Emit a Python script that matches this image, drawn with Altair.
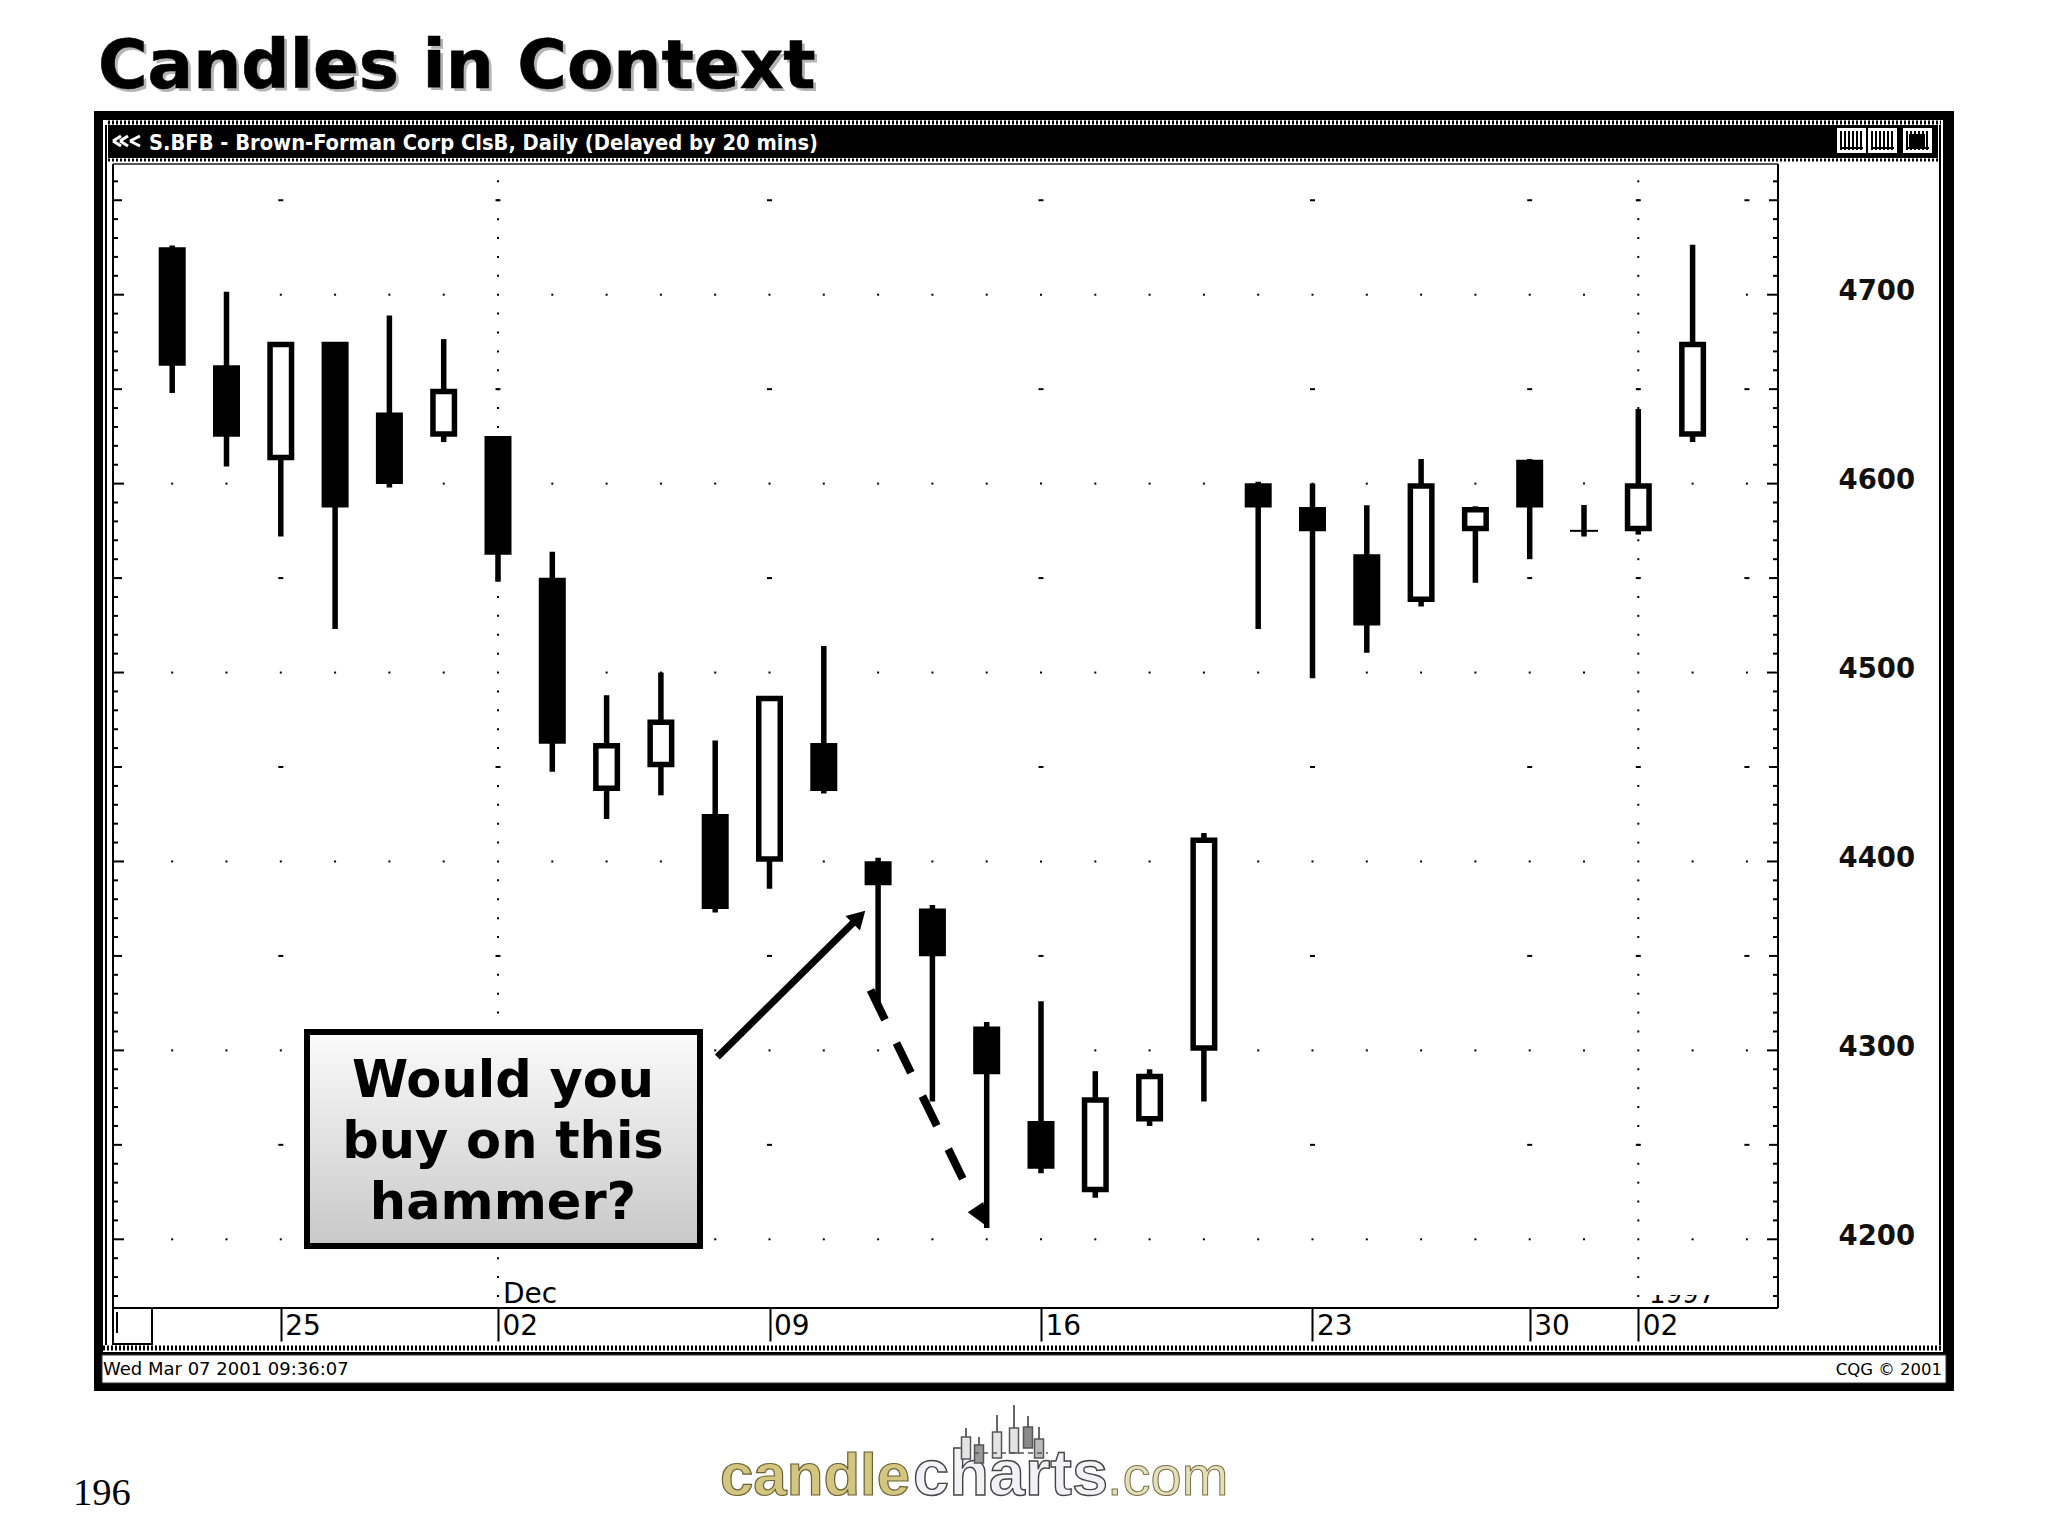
import altair as alt
import pandas as pd

# ---- chart values ----
idx    = list(range(29))
high   = [4726,4701.5,4675,4675,4689,4676.5,4625,4564,4488,4500,4464,4487.5,4514,4402,4377,4315,4326,4289,4290,4415,4601,4600,4588.5,4613,4588,4613,4588.7,4639.5,4726.5]
low    = [4648,4609,4572,4523,4598,4622,4548,4447.5,4422.5,4435,4373,4385.5,4436,4325,4273,4206,4235,4222,4260,4273,4523,4497,4510.5,4535,4547.5,4560,4572,4573,4622]
top    = [4723.7,4661.2,4673.7,4673.7,4636.2,4648.7,4623.7,4548.7,4461.2,4473.7,4423.7,4486.2,4461.2,4398.7,4373.7,4311.2,4261.2,4273.7,4286.2,4411.2,4598.7,4586.2,4561.2,4598.7,4586.2,4611.2,4575,4598.7,4673.7]
bottom = [4663.8,4626.3,4613.8,4588.8,4601.3,4626.3,4563.8,4463.8,4438.8,4451.3,4376.3,4401.3,4438.8,4388.8,4351.3,4288.8,4238.8,4226.3,4263.8,4301.3,4588.8,4576.3,4526.3,4538.8,4576.3,4588.8,4575,4576.3,4626.3]
up     = [0,0,1,0,0,1,0,0,1,1,0,1,0,0,0,0,0,1,1,1,0,0,0,1,1,0,1,1,1]
doji_i = [26]

x_tick_idx    = [2,6,11,16,21,25,27]
x_tick_labels = ['25','02','09','16','23','30','02']
y_labels      = [4200,4300,4400,4500,4600,4700]
week_idx      = [2,6,11,16,21,25,27,29]
half_levels   = [4250,4350,4450,4550,4650,4750]
all_idx       = list(range(30))
month_idx     = [6,27]
minor_levels  = [v for v in range(4170,4770,10) if v % 50]

arrow1_i, arrow1_p = [10.04,12.648], [4296.5,4370.6]
arrow2_i, arrow2_p = [12.86,14.587], [4331.9,4230.4]
head1_i, head1_p, head1_a = [12.648],[4370.6],[45]
head2_i, head2_p, head2_a = [14.919],[4211.5],[147]

# ---- page geometry ----
W, H = 2032, 1520
def P(v): return v - 8

xs = alt.Scale(domain=[0,28], range=[P(172.2),P(1692.6)], nice=False, zero=False, padding=0)
ys = alt.Scale(domain=[4200,4700], range=[P(1239.3),P(294.7)], nice=False, zero=False, padding=0)

label_expr = '{' + ','.join(f"'{i}':'{s}'" for i,s in zip(x_tick_idx,x_tick_labels)) + '}[datum.value]'
x_axis = alt.Axis(orient='bottom',offset=P(1308)-H,values=x_tick_idx,labelExpr=label_expr,zindex=1,
        domain=False,grid=False,tickSize=33,tickWidth=2,tickColor='black',labelPadding=-29,labelAlign='left',labelBaseline='top',
        labelFont='DejaVu Sans',labelFontSize=28,labelColor='black',labelOverlap=False,labelFlush=False,labelBound=False,labelOffset=4)
y_axis = alt.Axis(orient='right',offset=P(1838)-W,values=y_labels,format='d',zindex=1,
        domain=False,grid=False,ticks=False,labelPadding=0,labelAlign='left',labelBaseline='middle',
        labelFont='DejaVu Sans',labelFontWeight='bold',labelFontSize=27.5,labelColor='#111111',labelOverlap=False,labelFlush=False,labelBound=False,labelOffset=-3)

def X(f='i', **k): return alt.X(f'{f}:Q', scale=xs, axis=x_axis, title=None, **k)
def Y(f='p', **k): return alt.Y(f'{f}:Q', scale=ys, axis=y_axis, title=None, **k)

def rect(x1,y1,x2,y2,fill='transparent',stroke=None,sw=0):
    kw = {'fill': fill}
    if stroke is not None: kw.update(stroke=stroke, strokeWidth=sw)
    return alt.Chart().mark_rect(**kw).encode(x=alt.value(P(x1)),x2=alt.value(P(x2)),y=alt.value(P(y1)),y2=alt.value(P(y2)))

def line(x1,y1,x2,y2,color='black',w=2,dash=None):
    kw = dict(color=color, strokeWidth=w)
    if dash: kw['strokeDash'] = dash
    return alt.Chart().mark_rule(**kw).encode(x=alt.value(P(x1)),x2=alt.value(P(x2)),y=alt.value(P(y1)),y2=alt.value(P(y2)))

def text(x,y,s,size,font='DejaVu Sans',weight='normal',color='black',align='left',**k):
    return alt.Chart().mark_text(text=s,fontSize=size,font=font,fontWeight=weight,color=color,align=align,baseline='alphabetic',**k).encode(x=alt.value(P(x)),y=alt.value(P(y)))

layers = []
# slide title
layers += [text(101,91,'Candles in Context',67.6,weight='bold',color='#b4b4b4'),
           text(98,88,'Candles in Context',67.6,weight='bold',stroke='black',strokeWidth=0.6)]
# window chrome
layers += [rect(94,111,1954,1391,fill='black'),
           rect(103,120,1943,1352,fill='white'),
           rect(108,125,1938,158,fill='black'),
           line(108,122.5,1941,122.5,'black',4,[2,2]),
           line(108,160,1938,160,'black',3,[2,2]),
           line(106,125,106,1345,'black',2),
           line(1940,125,1940,1345,'black',2),
           rect(108,163,1936,1345,fill='white'),
           line(103,1348,1943,1348,'black',5,[2,2]),
           rect(102,1355,1946,1383,fill='white',stroke='#333',sw=1),
           ]
# caption of the window
layers += [text(149,150,'S.BFB - Brown-Forman Corp ClsB, Daily (Delayed by 20 mins)',21.7,font='DejaVu Sans Condensed, Liberation Sans',weight='bold',color='white')]
for a,b in [(113,121),(120,128),(130,140)]:
    layers += [line(a,141,b,136,'white',3), line(a,141,b,146,'white',3)]
# window buttons
for a,b in [(1837,1866),(1868,1897),(1903,1932)]:
    layers += [rect(a,128,b,153,fill='white')]
    layers += [line(a+4+k*4,131,a+4+k*4,150,'black',2) for k in range(6)]
    layers += [line(a+3,148,b-3,148,'black',2)]
layers += [rect(1909,134,1925,147,fill='black')]

# plot frame
layers += [line(113,164,1778,164,'#555',2),
           line(113,164,113,1345,'black',2),
           line(1778,164,1778,1308,'black',2),
           line(113,1308,1778,1308,'black',2),
           rect(113,1308,152,1344,stroke='black',sw=2),
           line(117,1312,117,1333,'black',2)]

# clipped year label
layers += [text(1649,1303,'1997',26), rect(1645,1270,1716,1295,fill='white')]
layers += [text(503,1303,'Dec',28)]

# ticks along both edges of the plot
def edge(levels, L):
    df = pd.DataFrame({'p':levels})
    return [alt.Chart(df).mark_rule(color='black',strokeWidth=2).encode(y=Y(),x=alt.value(P(113)),x2=alt.value(P(113+L))),
            alt.Chart(df).mark_rule(color='black',strokeWidth=2).encode(y=Y(),x=alt.value(P(1778-L)),x2=alt.value(P(1778)))]
layers += edge(minor_levels,5) + edge(half_levels,9) + edge(y_labels,11)

# dot grid
dots100 = pd.DataFrame([{'i':i,'p':p} for p in y_labels for i in all_idx])
dots50  = pd.DataFrame([{'i':i,'p':p} for p in half_levels for i in week_idx])
dotsV   = pd.DataFrame([{'i':i,'p':p} for i in month_idx for p in minor_levels+half_levels])
layers += [alt.Chart(dots100).mark_square(size=4,color='black',opacity=1).encode(x=X(),y=Y()),
           alt.Chart(dotsV).mark_square(size=4,color='black',opacity=1).encode(x=X(),y=Y()),
           alt.Chart(dots50).mark_tick(orient='horizontal',size=5,thickness=2,color='black',opacity=1).encode(x=X(),y=Y())]

# candles
df = pd.DataFrame({'i':idx,'high':high,'low':low,'top':top,'bottom':bottom,'up':up})
body = df[~df.i.isin(doji_i)]
doji = df[df.i.isin(doji_i)]
layers += [alt.Chart(body).mark_rule(color='black',strokeWidth=5.5).encode(x=X(),y=Y('high'),y2=alt.Y2('low')),
           alt.Chart(doji).mark_rule(color='black',strokeWidth=5.5).encode(x=X(),y=Y('high'),y2=alt.Y2('low')),
           alt.Chart(doji).mark_tick(orient='horizontal',size=28,thickness=2,color='black',opacity=1).encode(x=X(),y=Y('bottom')),
           alt.Chart(body).mark_bar(size=21.5,stroke='black',strokeWidth=5.5).encode(
               x=X(),y=Y('top'),y2=alt.Y2('bottom'),
               fill=alt.Fill('up:N',scale=alt.Scale(domain=[0,1],range=['black','white']),legend=None))]

# status strip
layers += [text(103,1375,'Wed Mar 07 2001 09:36:07',18), text(1942,1375,'CQG © 2001',16.5,align='right')]

# call-out box
grad = alt.LinearGradient(gradient='linear',x1=0,y1=0,x2=0,y2=1,
    stops=[alt.GradientStop(color='#fbfbfb',offset=0),alt.GradientStop(color='#c8c8c8',offset=1)])
layers += [rect(307,1032,700,1246,fill=grad,stroke='black',sw=6)]
for s,b in [('Would you',1097),('buy on this',1158),('hammer?',1219)]:
    layers += [text(503,b,s,51,weight='bold',align='center')]

# arrows
a1 = pd.DataFrame({'i':arrow1_i,'p':arrow1_p})
a2 = pd.DataFrame({'i':arrow2_i,'p':arrow2_p})
h1 = pd.DataFrame({'i':head1_i,'p':head1_p,'a':head1_a})
h2 = pd.DataFrame({'i':head2_i,'p':head2_p,'a':head2_a})
layers += [alt.Chart(a1).mark_line(color='black',strokeWidth=7,strokeCap='butt').encode(x=X(),y=Y(),order='i:Q'),
           alt.Chart(a2).mark_line(color='black',strokeWidth=8,strokeDash=[33,26],strokeCap='butt').encode(x=X(),y=Y(),order='i:Q'),
           alt.Chart(h1).mark_point(shape='triangle-up',filled=True,size=420,color='black',opacity=1).encode(x=X(),y=Y(),angle=alt.Angle('a:Q',scale=None)),
           alt.Chart(h2).mark_point(shape='M0,-1L-0.74,1L0.74,1Z',filled=True,size=625,color='black',opacity=1).encode(x=X(),y=Y(),angle=alt.Angle('a:Q',scale=None))]

# page number and logo
layers += [text(73,1505,'196',38.5,font='Liberation Serif')]
layers += [text(720,1495,'candle',60,font='Liberation Sans',weight='bold',color='#d3c680',stroke='#6b6238',strokeWidth=1.2),
           text(913,1495,'charts',65,font='Liberation Sans',weight='bold',color='#f1f1f6',stroke='#444',strokeWidth=1.4),
           text(1107,1495,'.com',56,font='Liberation Sans',color='#e6dfbe',stroke='#7a7040',strokeWidth=1)]
for xc,wt,bt,bb,col in [(966,1428,1437,1459,'#e4e4e4'),(979,1437,1445,1463,'#9a9a9a'),(997,1415,1432,1458,'#e4e4e4'),
                        (1014,1405,1428,1453,'#e4e4e4'),(1028,1416,1427,1448,'#8a8a8a'),(1039,1427,1439,1458,'#bbbbbb')]:
    layers += [line(xc,wt,xc,bt,'#666',2), rect(xc-4.5,bt,xc+4.5,bb,fill=col,stroke='#555',sw=1.5)]
layers += [line(974,1453,1048,1453,'#555',1.5,[5,4])]

chart = alt.layer(*layers).properties(width=W,height=H,padding=0,
        autosize=alt.AutoSizeParams(type='none'),background='white').configure_view(stroke=None)
chart.save("out.html", embed_options={"renderer": "svg", "actions": False})
